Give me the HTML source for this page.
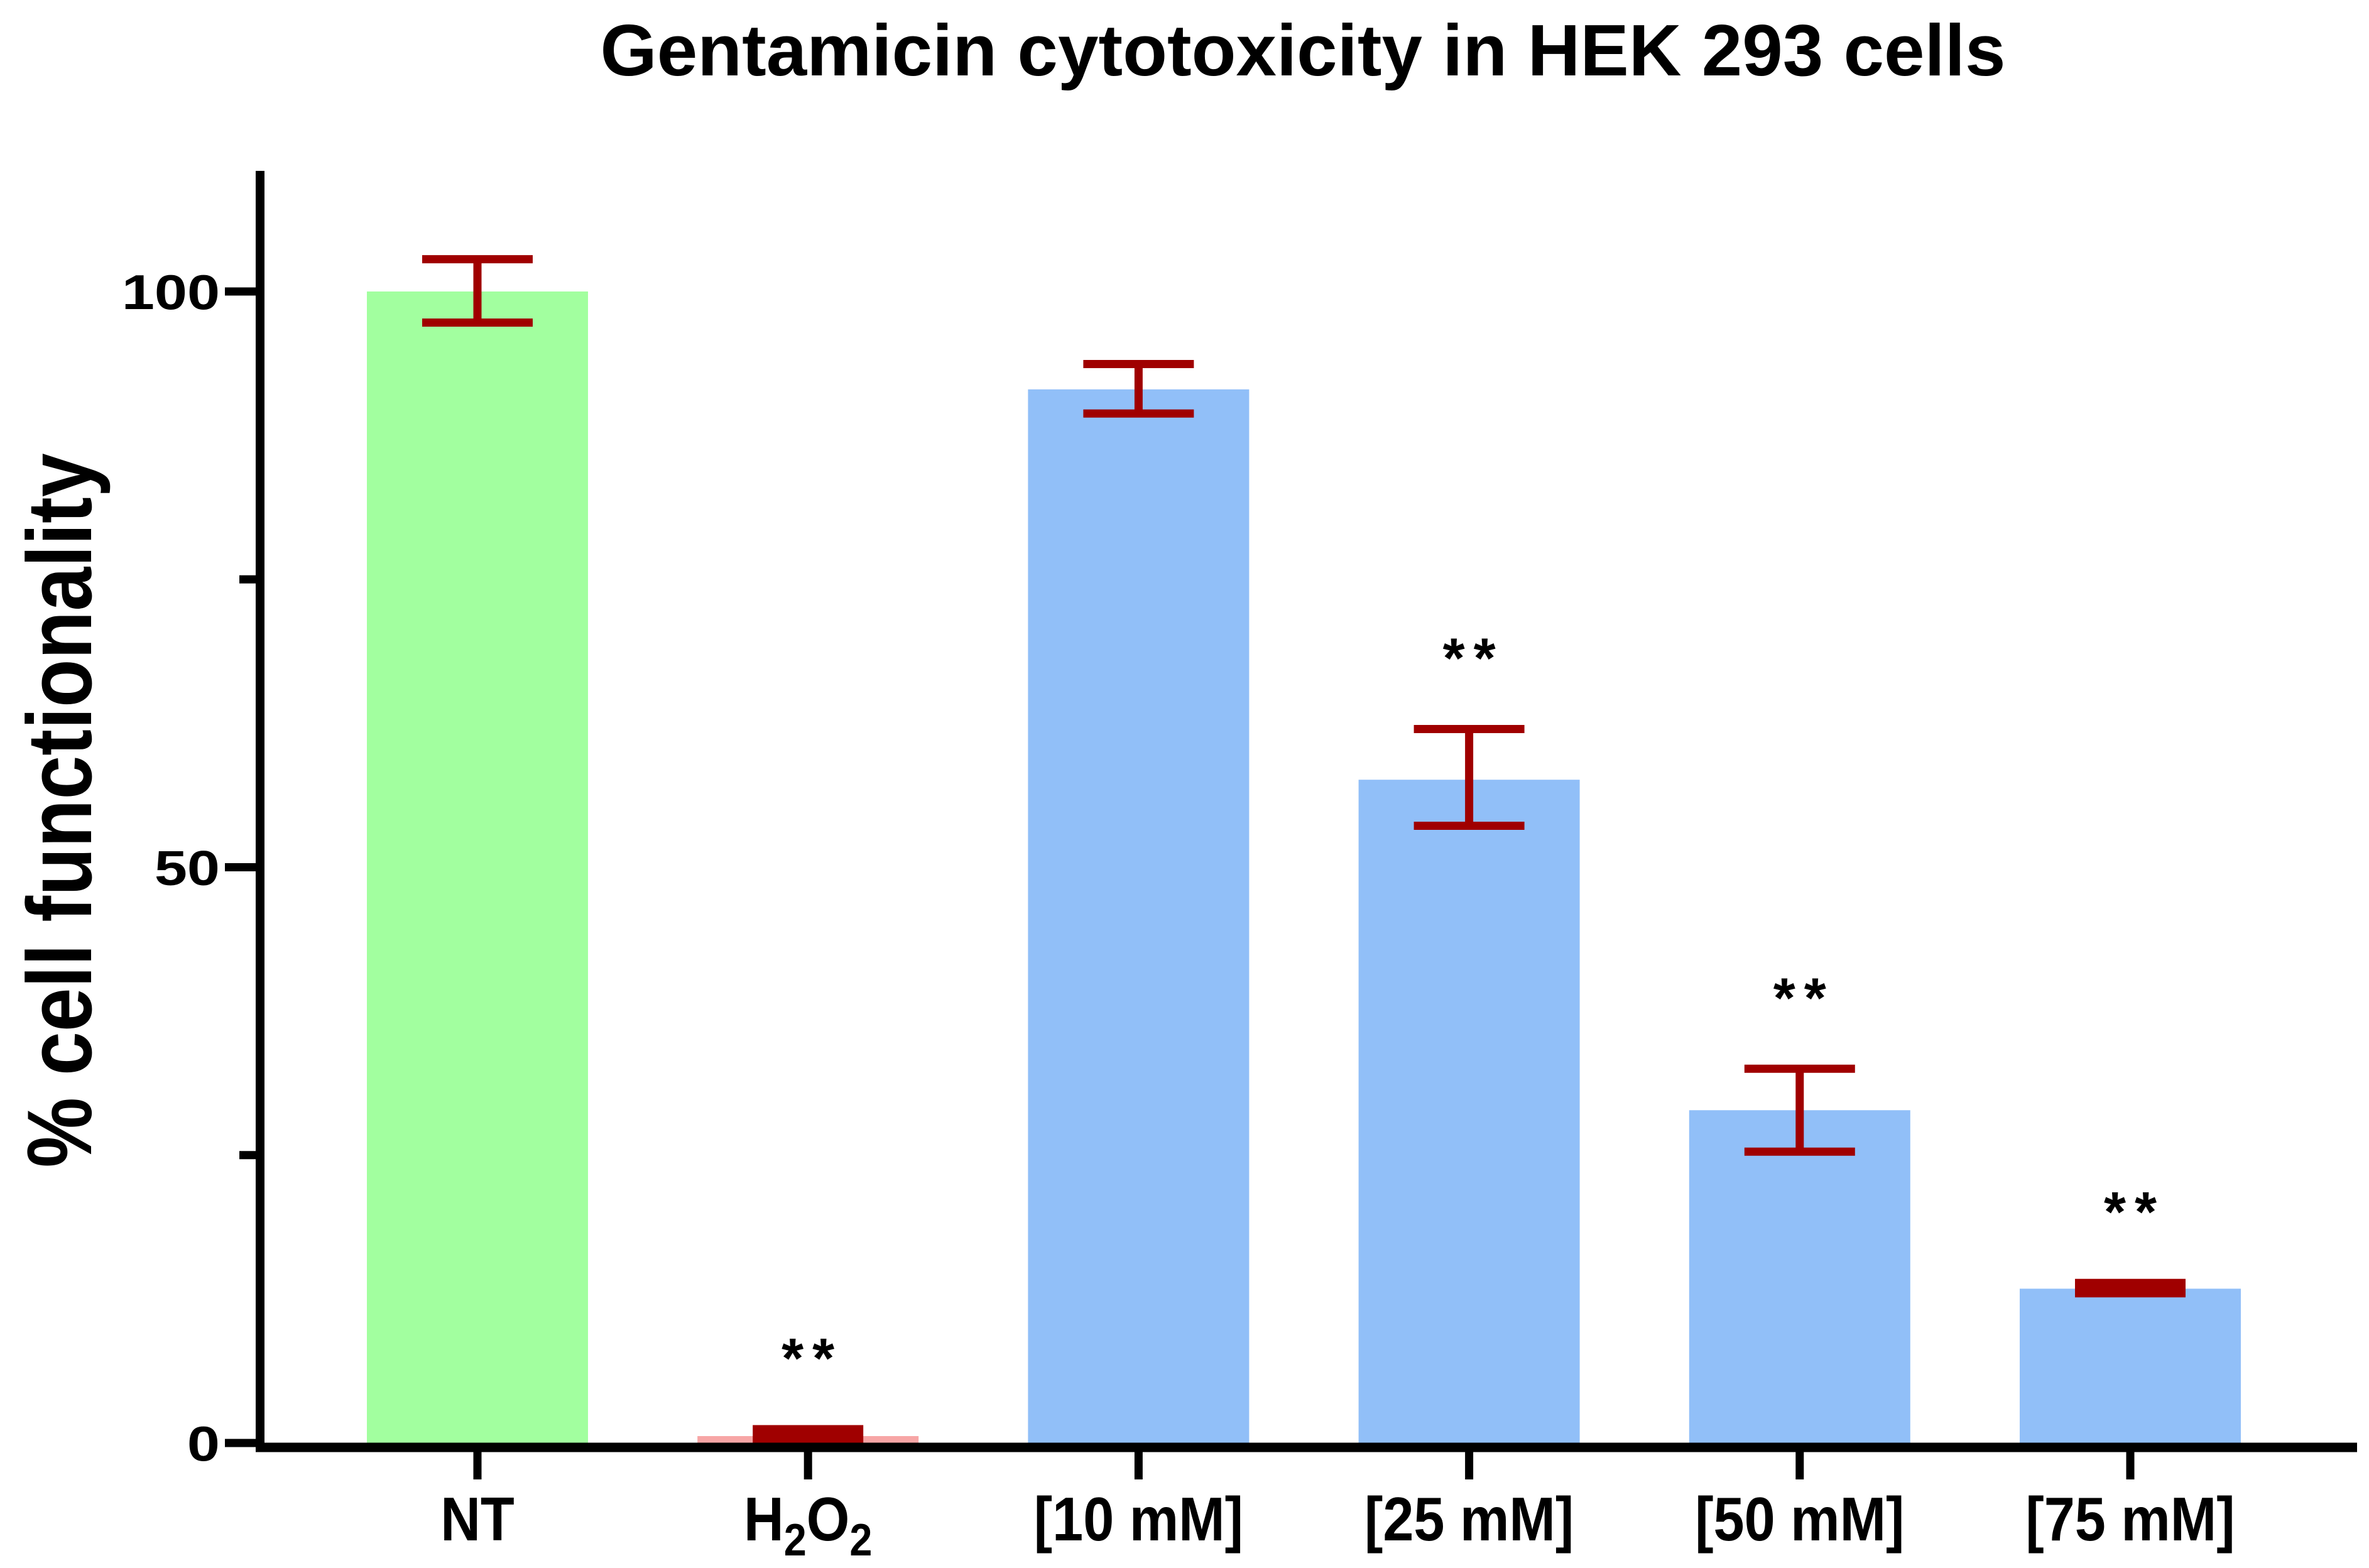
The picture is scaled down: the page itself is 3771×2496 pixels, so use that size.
<!DOCTYPE html>
<html><head><meta charset="utf-8"><style>
html,body{margin:0;padding:0;background:#fff;}
svg{display:block;font-family:"Liberation Sans",Arial,sans-serif;}
</style></head><body>
<svg id="chart" width="3771" height="2496" viewBox="0 0 3771 2496" xmlns="http://www.w3.org/2000/svg">
<text x="2074" y="120" text-anchor="middle" font-size="116" font-weight="bold">Gentamicin cytotoxicity in HEK 293 cells</text>
<text transform="translate(145,1290) rotate(-90) scale(0.86,1)" text-anchor="middle" font-size="146" font-weight="bold">% cell functionality</text>
<g id="plot"></g>
</svg>
<script>
const categories = ["NT", "H2O2", "[10 mM]", "[25 mM]", "[50 mM]", "[75 mM]"];
const values = [100, 0.6, 91.5, 57.6, 28.9, 13.4];
const errLow = [97.3, 0.3, 89.4, 53.6, 25.3, 13.0];
const errHigh = [102.8, 1.2, 93.7, 62.0, 32.5, 13.9];
const significant = [false, true, false, true, true, true];
const yTicks = [0, 25, 50, 75, 100];
const yTickLabels = ["0", "", "50", "", "100"];

const NS = "http://www.w3.org/2000/svg";
const plot = document.getElementById("plot");
const X0 = 414, YBASE = 2297, PXU = 18.33;
const fills = ["#a2ff9f", "#f7a6a6", "#91bff8", "#91bff8", "#91bff8", "#91bff8"];
function y(v){ return YBASE - v * PXU; }
function x(i){ return 760 + i * 526.2; }
function mk(tag, attrs){ const e = document.createElementNS(NS, tag); for (const k in attrs) e.setAttribute(k, attrs[k]); plot.appendChild(e); return e; }

const BW = 352, CAP = 176, SW = 13;
categories.forEach((c, i) => {
  const b = mk("rect", {x: x(i) - BW/2, y: y(values[i]), width: BW, height: YBASE - y(values[i]), fill: fills[i]});
  
  
  const g = document.createElementNS(NS, "g");
  
  
  plot.appendChild(g);
  const yl = y(errLow[i]), yh = y(errHigh[i]);
  const add = (a) => { const e = document.createElementNS(NS, "line"); for (const k in a) e.setAttribute(k, a[k]); e.setAttribute("stroke", "#a00000"); e.setAttribute("stroke-width", SW); g.appendChild(e); };
  if (yl - yh < 30) {
    const r = document.createElementNS(NS, "rect");
    r.setAttribute("x", x(i) - CAP/2); r.setAttribute("y", yh - SW/2);
    r.setAttribute("width", CAP); r.setAttribute("height", yl - yh + SW);
    r.setAttribute("fill", "#a00000");
    g.appendChild(r);
  } else {
    add({x1: x(i), x2: x(i), y1: yh, y2: yl});
    add({x1: x(i) - CAP/2, x2: x(i) + CAP/2, y1: yh, y2: yh});
    add({x1: x(i) - CAP/2, x2: x(i) + CAP/2, y1: yl, y2: yl});
  }
  if (significant[i]) {
    const s = mk("text", {x: x(i) + 7, y: yh - 82, "text-anchor": "middle", "font-size": "90", "font-weight": "bold", "letter-spacing": "14"});
    s.textContent = "**";
    
    
  }
  const t = mk("line", {x1: x(i), x2: x(i), y1: YBASE, y2: 2355, stroke: "#000", "stroke-width": 13});
  
  
  const lab = mk("text", {transform: "translate(" + x(i) + ",2452) scale(0.9,1)", "text-anchor": "middle", "font-size": "98", "font-weight": "bold"});
  if (c === "H2O2") {
    lab.innerHTML = 'H<tspan font-size="72" dy="24">2</tspan><tspan dy="-24">O</tspan><tspan font-size="72" dy="24">2</tspan>';
  } else lab.textContent = c;
  
  
});

yTicks.forEach((v, i) => {
  const major = yTickLabels[i] !== "";
  const t = mk("line", {x1: major ? 358 : 381, x2: X0, y1: y(v), y2: y(v), stroke: "#000", "stroke-width": 13});
  
  
  if (major) {
    const l = mk("text", {transform: "translate(350," + (y(v) + 28) + ") scale(1.2,1)", "text-anchor": "end", "font-size": "78", "font-weight": "bold"});
    l.textContent = yTickLabels[i];
    
    
  }
});
const ya = mk("line", {x1: X0, x2: X0, y1: 272, y2: 2305, stroke: "#000", "stroke-width": 14});


const xa = mk("line", {x1: 407, x2: 3752, y1: YBASE + 7, y2: YBASE + 7, stroke: "#000", "stroke-width": 15});


</script>
</body></html>
